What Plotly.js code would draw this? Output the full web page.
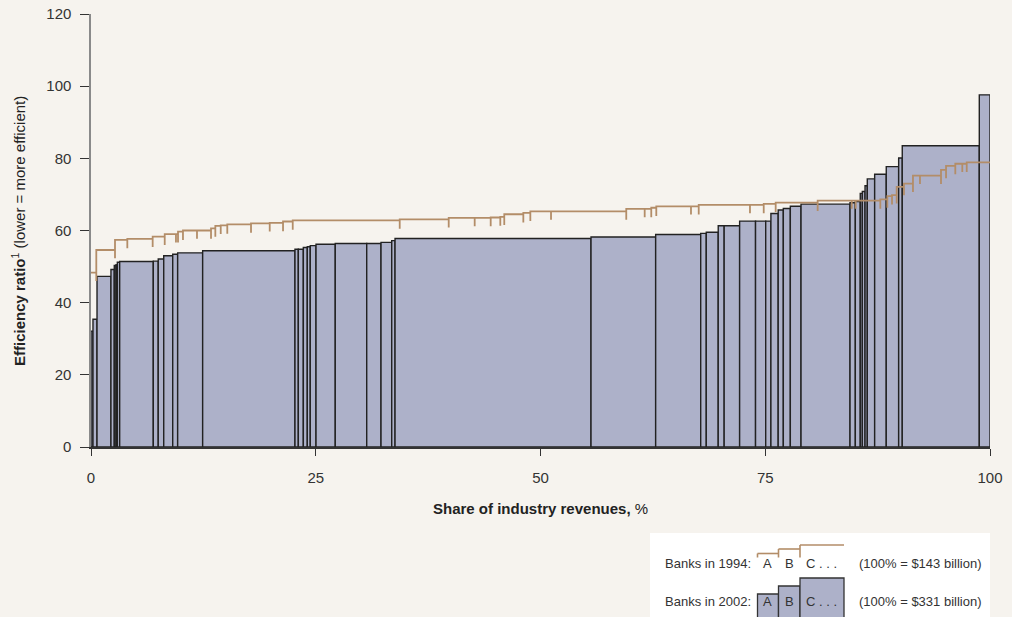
<!DOCTYPE html>
<html>
<head>
<meta charset="utf-8">
<script src="https://cdn.plot.ly/plotly-3.0.1.min.js"></script>
<style>
  html, body { margin: 0; padding: 0; background: #f6f3ee; }
  #chart { width: 1012px; height: 617px; }
</style>
</head>
<body>
<div id="chart"></div>
<script>
// ---- Data ----
// Banks in 2002: share of industry revenues (%) and efficiency ratio, sorted by ratio
const shares2002 = [0.22, 0.45, 1.55, 0.37, 0.19, 0.15, 0.26, 3.74, 0.55, 0.61, 1.00, 0.55, 2.78, 10.27,
  0.37, 0.56, 0.44, 0.33, 0.64, 2.14, 3.50, 1.59, 1.19, 0.37, 21.80, 7.19, 5.01, 0.62, 1.33, 0.66,
  1.72, 1.77, 1.13, 0.58, 0.81, 0.57, 0.78, 1.19, 5.45, 0.59, 0.55, 0.23, 0.30, 0.25, 0.82, 1.29,
  1.38, 0.40, 8.57, 1.19];
const ratio2002 = [32.1, 35.4, 47.3, 49.2, 50.3, 50.5, 51.2, 51.4, 51.5, 52.1, 53.0, 53.4, 53.8, 54.4,
  54.8, 54.8, 55.3, 55.5, 55.8, 56.2, 56.4, 56.4, 56.7, 57.2, 57.8, 58.2, 58.9, 59.2, 59.5, 61.3,
  61.3, 62.6, 62.6, 62.6, 64.7, 65.7, 66.1, 66.7, 67.3, 67.7, 68.0, 70.3, 70.8, 72.4, 74.3, 75.6,
  77.7, 80.1, 83.5, 97.6];

// Banks in 1994
const shares1994 = [0.59, 2.08, 1.37, 2.82, 1.34, 1.25, 0.23, 0.55, 1.56, 1.56, 0.48, 0.60, 0.73, 2.64,
  2.08, 1.48, 1.08, 11.90, 5.45, 2.89, 1.78, 1.07, 0.44, 2.12, 0.78, 2.30, 8.37, 2.05, 0.73, 0.56,
  3.86, 0.86, 5.70, 1.53, 1.33, 4.67, 3.79, 0.44, 2.74, 0.78, 0.52, 0.52, 0.81, 1.00, 0.78, 2.34,
  0.56, 1.03, 0.78, 0.49, 2.59];
const ratio1994 = [48.3, 54.6, 57.4, 57.7, 58.3, 59.0, 59.0, 59.7, 60.0, 60.0, 60.6, 61.3, 61.4, 61.7,
  62.0, 62.1, 62.5, 62.8, 63.1, 63.5, 63.5, 63.6, 63.8, 64.5, 64.9, 65.3, 65.3, 66.0, 66.0, 66.3,
  66.7, 66.7, 67.1, 67.1, 67.4, 67.7, 68.3, 68.3, 68.3, 68.6, 69.5, 69.8, 72.1, 73.0, 75.2, 75.2,
  76.8, 77.9, 78.5, 78.5, 78.9];

const xTicks = [0, 25, 50, 75, 100];
const yTicks = [0, 20, 40, 60, 80, 100, 120];

// ---- Derived geometry ----
function cumulative(arr) {
  const out = [0];
  arr.forEach(v => out.push(out[out.length - 1] + v));
  return out;
}
const edges02 = cumulative(shares2002);
const centers02 = shares2002.map((w, i) => edges02[i] + w / 2);

const edges94 = cumulative(shares1994);
const TICK = 2.3; // downward tick at each 1994 bank boundary (in ratio units)
const lx = [], ly = [];
ratio1994.forEach((r, i) => {
  if (i === 0) { lx.push(edges94[0]); ly.push(r); }
  else {
    lx.push(edges94[i]); ly.push(ratio1994[i - 1] - TICK);
    lx.push(edges94[i]); ly.push(r);
  }
  lx.push(edges94[i + 1]); ly.push(r);
});

const FONT = '"Liberation Sans", Arial, sans-serif';
const TXT = '#333333';
const BAR = '#adb1c9';
const TAN = '#b38d68';

const traces = [
  {
    type: 'bar', name: 'Banks in 2002',
    x: centers02, y: ratio2002, width: shares2002,
    marker: { color: BAR, line: { color: '#222222', width: 1.4 } },
    hoverinfo: 'skip', showlegend: false
  },
  {
    type: 'scatter', mode: 'lines', name: 'Banks in 1994',
    x: lx, y: ly,
    line: { color: TAN, width: 1.8 },
    hoverinfo: 'skip', showlegend: false, cliponaxis: false
  }
];

// pixel -> paper helpers for the legend box (plot area: x 91..990, y 14..447)
const L = 91, R = 990, T = 14, B = 447;
const px = x => (x - L) / (R - L);
const py = y => (B - y) / (B - T);

const shapes = [];
const annotations = [];

// legend box
shapes.push({ type: 'rect', xref: 'paper', yref: 'paper', x0: px(650), x1: px(990), y0: py(533), y1: py(640),
  fillcolor: '#ffffff', line: { width: 0 }, layer: 'below' });

// 1994 legend mini step line
function seg(x0, y0, x1, y1, color, w) {
  shapes.push({ type: 'line', xref: 'paper', yref: 'paper', x0: px(x0), y0: py(y0), x1: px(x1), y1: py(y1),
    line: { color: color, width: w } });
}
seg(757.5, 557.5, 757.5, 553.5, TAN, 1.6);
seg(757.5, 553.5, 778.5, 553.5, TAN, 1.6);
seg(778.5, 557.5, 778.5, 549, TAN, 1.6);
seg(778.5, 549, 800, 549, TAN, 1.6);
seg(800, 557.5, 800, 545, TAN, 1.6);
seg(800, 545, 844, 545, TAN, 1.6);

// 2002 legend mini bars
function box(x0, x1, top) {
  shapes.push({ type: 'rect', xref: 'paper', yref: 'paper', x0: px(x0), x1: px(x1), y0: py(640), y1: py(top),
    fillcolor: BAR, line: { color: '#333333', width: 1.3 } });
}
box(757.5, 778.5, 594);
box(778.5, 800, 586);
box(800, 844, 578);

function txt(text, x, y, anchor, size) {
  annotations.push({ text: text, xref: 'paper', yref: 'paper', x: px(x), y: py(y),
    xanchor: anchor || 'left', yanchor: 'middle', showarrow: false,
    font: { family: FONT, size: size || 13, color: TXT } });
}
txt('Banks in 1994:', 663, 563);
txt('A', 767, 563, 'center');
txt('B', 789, 563, 'center');
txt('C . . .', 804, 563);
txt('(100% = $143 billion)', 857, 563);
txt('Banks in 2002:', 663, 601);
txt('A', 767, 601, 'center');
txt('B', 789, 601, 'center');
txt('C . . .', 804, 601);
txt('(100% = $331 billion)', 857, 601);

// axis titles
annotations.push({ text: '<b>Share of industry revenues,</b> %', xref: 'paper', yref: 'paper',
  x: px(540), y: py(508), xanchor: 'center', yanchor: 'middle', showarrow: false,
  font: { family: FONT, size: 15, color: '#222222' } });
annotations.push({ text: '<b>Efficiency ratio</b><sup>1</sup> (lower = more efficient)', xref: 'paper', yref: 'paper',
  x: px(19), y: py(231), xanchor: 'center', yanchor: 'middle', textangle: -90, showarrow: false,
  font: { family: FONT, size: 15, color: '#222222' } });

const layout = {
  width: 1012, height: 617,
  margin: { l: L, r: 1012 - R, t: T, b: 617 - B },
  paper_bgcolor: '#f6f3ee', plot_bgcolor: '#f6f3ee',
  font: { family: FONT, size: 15, color: TXT },
  showlegend: false,
  xaxis: {
    range: [0, 100], tickvals: xTicks, ticktext: xTicks.map(String),
    showgrid: false, zeroline: false, showline: true, linecolor: '#333333', linewidth: 1.5,
    ticks: 'outside', ticklen: 7, tickcolor: '#333333', tickwidth: 1,
    ticklabelstandoff: 9, tickfont: { family: FONT, size: 15, color: TXT }
  },
  yaxis: {
    range: [0, 120], tickvals: yTicks, ticktext: yTicks.map(String),
    showgrid: false, zeroline: false, showline: true, linecolor: '#8a8a8a', linewidth: 1.6,
    ticks: 'outside', ticklen: 9, tickcolor: '#333333', tickwidth: 1,
    ticklabelstandoff: 6, tickfont: { family: FONT, size: 15, color: TXT }
  },
  shapes: shapes,
  annotations: annotations,
  bargap: 0
};

Plotly.newPlot('chart', traces, layout, { displayModeBar: false, staticPlot: true });
</script>
</body>
</html>
